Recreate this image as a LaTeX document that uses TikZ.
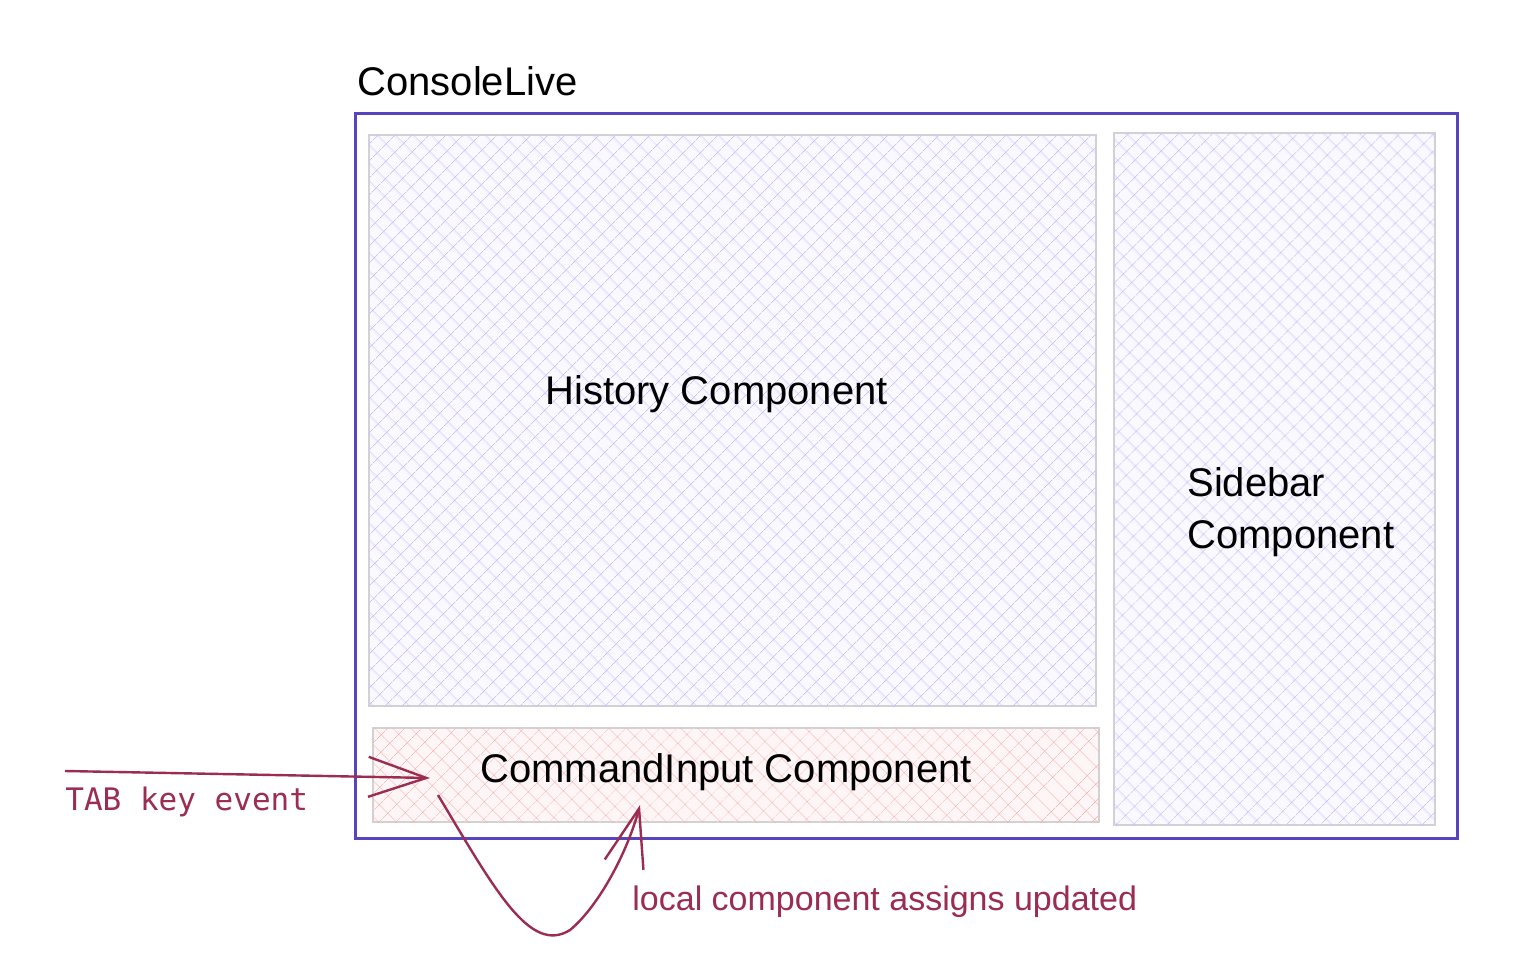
\documentclass[tikz,border=0pt]{standalone}
\usepackage{fontspec}
\setmainfont{Liberation Sans}
\newfontfamily\codefont{DejaVu Sans Mono}
\usetikzlibrary{patterns.meta,arrows.meta,fit}
\definecolor{frameblue}{RGB}{88,68,192}
\definecolor{crimson}{RGB}{155,44,82}
\definecolor{boxgray}{RGB}{210,210,212}
\definecolor{lavline}{RGB}{200,195,248}
\definecolor{lavfill}{RGB}{250,249,255}
\definecolor{pinkline}{RGB}{245,175,175}
\definecolor{pinkfill}{RGB}{254,246,246}
\tikzset{
  x=0.5pt,y=-0.5pt,
  frame/.style={draw=frameblue,line width=1.5pt,inner sep=0pt},
  lavbox/.style={draw=boxgray,line width=1pt,inner sep=0pt,fill=lavfill,
    postaction={pattern={Hatch[angle=45,distance=6.5pt,line width=0.35pt]},pattern color=lavline}},
  pinkbox/.style={draw=boxgray,line width=1pt,inner sep=0pt,fill=pinkfill,
    postaction={pattern={Hatch[angle=45,distance=6.5pt,line width=0.35pt]},pattern color=pinkline}},
  label/.style={font=\fontsize{20}{26}\selectfont,inner sep=0pt},
  note/.style={font=\fontsize{17}{20}\selectfont,text=crimson,inner sep=0pt},
  codenote/.style={font=\codefont\fontsize{15.5}{18}\selectfont,text=crimson,inner sep=0pt},
  flow/.style={draw=crimson,line width=1.2pt,-{Straight Barb[length=29pt,width=20pt,line width=1.2pt]}},
}
\begin{document}
\begin{tikzpicture}
\useasboundingbox (0,0) rectangle (1526,976);
\fill[white] (0,0) rectangle (1526,976);
% outer frame
\node[frame,fit={(355,113)(1457,838)}] (console) {};
\node[label,anchor=base west] (consoletitle) at (357,95) {ConsoleLive};
% inner components
\node[lavbox,fit={(369,135)(1096,706)}] (history) {};
\node[lavbox,fit={(1114,133)(1435,825)}] (sidebar) {};
\node[pinkbox,fit={(373,728)(1099,822)}] (cmd) {};
\node[label,anchor=base west] (historytext) at (545,404) {History Component};
\node[label,anchor=west,align=left] (sidebartext) at (1187,512) {Sidebar\\Component};
\node[label,anchor=base west] (cmdtext) at (480,782) {CommandInput Component};
% connectors
\coordinate (tabsrc) at (65,771);
\coordinate (tabdst) at (430,778);
\draw[flow] (tabsrc) -- (tabdst);
\node[codenote,anchor=base west] (tabtext) at (65,810) {TAB key event};
\coordinate (loopsrc) at (438,795);
\coordinate (loopdst) at (640,805);
\draw[flow] (loopsrc) .. controls (495,890) and (530,955) .. (570,930)
  .. controls (600,905) and (628,850) .. (loopdst);
\node[note,anchor=base west] (looptext) at (632,910) {local component assigns updated};
\end{tikzpicture}
\end{document}
